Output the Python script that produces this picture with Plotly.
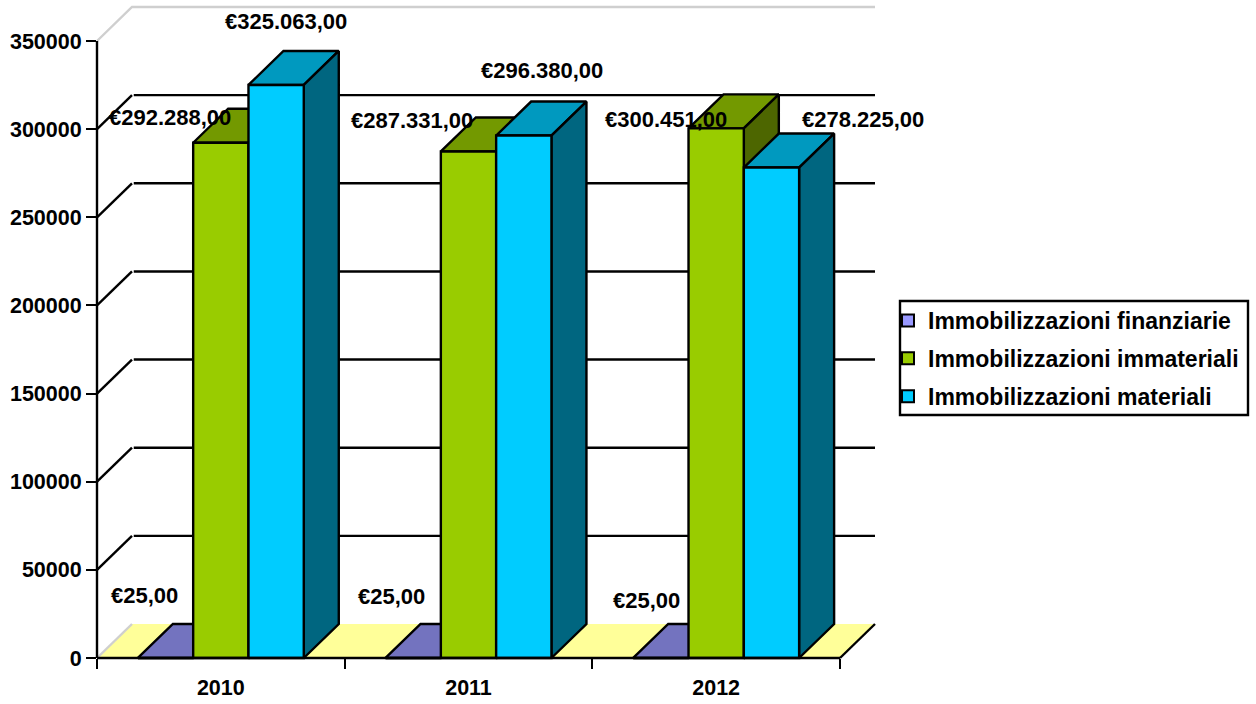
import plotly.graph_objects as go

YEARS = ["2010", "2011", "2012"]
SERIES = ["Immobilizzazioni finanziarie", "Immobilizzazioni immateriali", "Immobilizzazioni materiali"]
FINANZIARIE = [25, 25, 25]
IMMATERIALI = [292288, 287331, 300451]
MATERIALI = [325063, 296380, 278225]
Y_TICKS = [0, 50000, 100000, 150000, 200000, 250000, 300000, 350000]

FRONT = ["#9999FF", "#99CC00", "#00CCFF"]
TOP = ["#7373BF", "#739900", "#0099BF"]
SIDE = ["#4D4D80", "#4D6600", "#006680"]
FLOOR = "#FFFF99"

# label offsets from each bar's top centre, in pixels (x, y up)
LABEL_SHIFT = [
    [(-21, 62), (-22, 61), (-14, 57)],
    [(-51, 25), (-57, 31), (-50, 9)],
    [(10, 63), (18, 65), (92, 48)],
]

# pixel frame of the visible axes and of the wider drawing layer behind the 3-D depth
AX_L, AX_R, AX_B, AX_T = 97, 840, 658, 41
PL_L, PL_R, PL_B, PL_T = 88, 885, 666, 0
PX_X = (AX_R - AX_L) / 3
PX_Y = (AX_B - AX_T) / 350000
DX = 35 / PX_X
DY = 34 / PX_Y
W = 55.3 / PX_X
FONT = "Liberation Sans"
X0, X1 = -0.5, 2.5
LW = 2.4

fig = go.Figure()
DATA_AXES = dict(xaxis="x3", yaxis="y3", showlegend=False, hoverinfo="skip")


def poly(xs, ys, fill, line="black", width=LW, name=None):
    fig.add_trace(go.Scatter(
        x=xs, y=ys, mode="lines", fill="toself", fillcolor=fill,
        line=dict(color=line, width=width), name=name, **DATA_AXES))


def line(xs, ys, color="black", width=LW):
    fig.add_trace(go.Scatter(
        x=xs, y=ys, mode="lines", line=dict(color=color, width=width), **DATA_AXES))


# floor
poly([X0, X1, X1 + DX, X0 + DX, X0], [0, 0, DY, DY, 0], FLOOR, line="rgba(0,0,0,0)", width=0)
# walls
for v in Y_TICKS:
    if v == 0:
        line([X0, X0 + DX], [0, DY], color="#CFCFCF")
        line([X1, X1 + DX], [0, DY])
    elif v == Y_TICKS[-1]:
        line([X0, X0 + DX, X1 + DX], [v, v + DY, v + DY], color="#CFCFCF")
    else:
        line([X0, X0 + DX], [v, v + DY])
        line([X0 + DX * 1.05, X1 + DX], [v + DY, v + DY])

# bars
data = [FINANZIARIE, IMMATERIALI, MATERIALI]
for c in range(len(YEARS)):
    for s, vals in enumerate(data):
        v = vals[c]
        a = c - 1.5 * W + s * W
        b = a + W
        poly([a, a + DX, b + DX, b, a], [v, v + DY, v + DY, v, v], TOP[s], name=SERIES[s])
        poly([b, b + DX, b + DX, b, b], [0, DY, v + DY, v, 0], SIDE[s], name=SERIES[s])
        poly([a, b, b, a, a], [0, 0, v, v, 0], FRONT[s], name=SERIES[s])

# axis lines above the floor
line([X0, X1], [0, 0])
line([X0, X0], [0, Y_TICKS[-1]])


def euro(v):
    return "€" + f"{v:,.2f}".replace(",", "#").replace(".", ",").replace("#", ".")


annotations = []
for s, vals in enumerate(data):
    for c, v in enumerate(vals):
        sx, sy = LABEL_SHIFT[s][c]
        annotations.append(dict(
            x=c - 1.5 * W + (s + 0.5) * W, y=v, xref="x3", yref="y3", text=euro(v), showarrow=False,
            xshift=sx, yshift=sy, xanchor="center", yanchor="middle",
            font=dict(family=FONT, size=22, color="black", weight=700)))

# legend entries
for s, name in enumerate(SERIES):
    fig.add_trace(go.Scatter(
        x=[None], y=[None], mode="markers", name=name, legendgroup=name, xaxis="x3", yaxis="y3",
        marker=dict(symbol="square", size=12, color=FRONT[s], line=dict(color="black", width=2))))

# empty traces keep the tick axes alive
fig.add_trace(go.Scatter(x=[0, 1, 2], y=[None, None, None], xaxis="x", yaxis="y", mode="markers",
                         showlegend=False, hoverinfo="skip"))
fig.add_trace(go.Scatter(x=[0, 1, 2], y=[None, None, None], xaxis="x2", yaxis="y", mode="markers",
                         showlegend=False, hoverinfo="skip"))

w, h = PL_R - PL_L, PL_B - PL_T
dom_x = [(AX_L - PL_L) / w, (AX_R - PL_L) / w]
dom_y = [(PL_B - AX_B) / h, (PL_B - AX_T) / h]
fig.update_layout(
    width=1256, height=704, autosize=False,
    margin=dict(l=PL_L, r=1256 - PL_R, t=PL_T, b=704 - PL_B, autoexpand=False),
    paper_bgcolor="white", plot_bgcolor="rgba(0,0,0,0)",
    annotations=annotations,
    xaxis=dict(domain=dom_x, anchor="y", range=[X0, X1], tickmode="array", tickvals=[-0.5, 0.5, 1.5, 2.5],
               ticktext=["", "", "", ""], ticks="outside", ticklen=10, tickwidth=LW, tickcolor="black",
               showgrid=False, zeroline=False, showline=False),
    xaxis2=dict(domain=dom_x, range=[X0, X1], overlaying="x", anchor="y", side="bottom", tickmode="array",
                tickvals=[0, 1, 2], ticktext=YEARS, ticks="", showgrid=False, zeroline=False, showline=False,
                ticklabelstandoff=14, tickfont=dict(family=FONT, size=21.5, color="black", weight=700)),
    yaxis=dict(domain=dom_y, anchor="x", range=[0, 350000], tickmode="array", tickvals=Y_TICKS, ticks="outside",
               ticklen=10, tickwidth=LW, tickcolor="black", showgrid=False, zeroline=False, showline=False,
               tickformat="d", tickfont=dict(family=FONT, size=21.5, color="black", weight=700)),
    xaxis3=dict(domain=[0, 1], anchor="y3", visible=False,
                range=[X0 + (PL_L - AX_L) / PX_X, X0 + (PL_R - AX_L) / PX_X]),
    yaxis3=dict(domain=[0, 1], anchor="x3", visible=False,
                range=[(AX_B - PL_B) / PX_Y, (AX_B - PL_T) / PX_Y]),
    legend=dict(x=888 / 1256, xanchor="left", xref="container", y=1 - 299 / 704, yref="container", yanchor="top",
                bgcolor="rgba(0,0,0,0)", borderwidth=0, tracegroupgap=5, itemsizing="trace",
                font=dict(family=FONT, size=23, color="black", weight=700)),
    shapes=[dict(type="rect", xref="paper", yref="paper",
                 x0=(900 - PL_L) / w, x1=(1248 - PL_L) / w,
                 y0=(PL_B - 415) / h, y1=(PL_B - 301) / h,
                 line=dict(color="black", width=LW), fillcolor="rgba(0,0,0,0)")],
)
fig.write_html("out.html", post_script="document.body.style.margin='0';",
               config={"displayModeBar": False})
